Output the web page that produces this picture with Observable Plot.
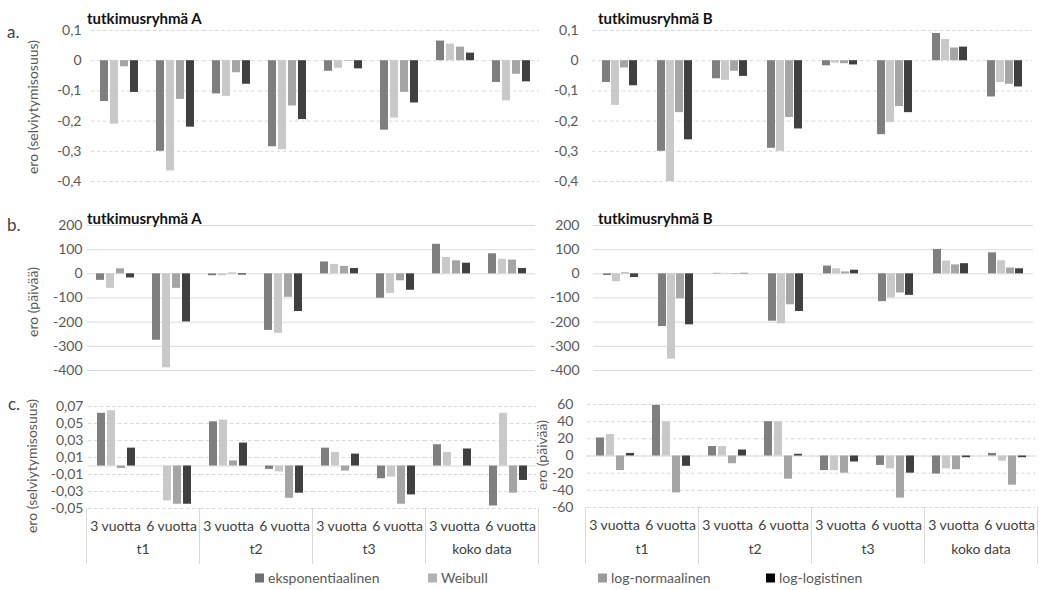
<!DOCTYPE html>
<html><head><meta charset="utf-8">
<script src="https://cdn.jsdelivr.net/npm/d3@7"></script>
<script src="https://cdn.jsdelivr.net/npm/@observablehq/plot@0.6"></script>
<style>
html,body{margin:0;padding:0;background:#fff;}
#root{position:relative;width:1039px;height:590px;overflow:hidden;font-family:Lato,"Open Sans",sans-serif;color:#595959;}
.t{position:absolute;white-space:nowrap;line-height:1;}
.title{font-weight:bold;font-size:15px;color:#111;}
.letter{font-size:17px;color:#404040;}
.ylab{font-size:14px;color:#595959;transform:translate(-50%,-50%) rotate(-90deg);}
.leg{font-size:14px;color:#595959;transform:translateY(-50%);}
.sw{position:absolute;width:9px;height:9px;transform:translateY(-50%);}
</style></head>
<body><div id="root"></div>
<script>
// ---- categories ----
const series = ["eksponentiaalinen", "Weibull", "log-normaalinen", "log-logistinen"];
const periods = ["t1", "t2", "t3", "koko data"];
const horizons = ["3 vuotta", "6 vuotta"];

// ---- values, order: t1/3v, t1/6v, t2/3v, t2/6v, t3/3v, t3/6v, koko/3v, koko/6v ----
// a. ero (selviytymisosuus), tutkimusryhmä A
const selvA_eksp = [-0.135, -0.30, -0.11, -0.285, -0.035, -0.23, 0.065, -0.072];
const selvA_weib = [-0.21, -0.365, -0.118, -0.295, -0.025, -0.19, 0.055, -0.133];
const selvA_logn = [-0.02, -0.128, -0.04, -0.15, -0.002, -0.105, 0.045, -0.045];
const selvA_logl = [-0.105, -0.22, -0.078, -0.195, -0.027, -0.14, 0.025, -0.07];
// a. tutkimusryhmä B
const selvB_eksp = [-0.072, -0.30, -0.06, -0.29, -0.017, -0.245, 0.09, -0.12];
const selvB_weib = [-0.148, -0.40, -0.065, -0.30, -0.008, -0.205, 0.07, -0.072];
const selvB_logn = [-0.024, -0.172, -0.035, -0.188, -0.01, -0.152, 0.042, -0.078];
const selvB_logl = [-0.083, -0.262, -0.052, -0.226, -0.014, -0.172, 0.045, -0.087];
// b. ero (päivää), A
const paivA_eksp = [-27, -275, -8, -234, 49, -101, 122, 83];
const paivA_weib = [-60, -389, -8, -246, 39, -81, 68, 60];
const paivA_logn = [21, -60, 3, -97, 31, -29, 54, 57];
const paivA_logl = [-17, -199, -5, -156, 22, -68, 44, 22];
// b. B
const paivB_eksp = [-7, -218, 2, -196, 32, -115, 101, 87];
const paivB_weib = [-33, -353, 2, -207, 21, -99, 53, 54];
const paivB_logn = [4, -103, -2, -128, 8, -79, 37, 24];
const paivB_logl = [-15, -211, 2, -156, 15, -89, 42, 21];
// c. A (selviytymisosuus)
const cA_eksp = [0.062, 0, 0.052, -0.004, 0.021, -0.015, 0.025, -0.047];
const cA_weib = [0.065, -0.041, 0.054, -0.007, 0.016, -0.013, 0.016, 0.062];
const cA_logn = [-0.003, -0.045, 0.006, -0.038, -0.006, -0.045, 0, -0.032];
const cA_logl = [0.021, -0.045, 0.027, -0.032, 0.014, -0.034, 0.020, -0.017];
// c. B (päivää)
const cB_eksp = [21, 59, 11, 40, -17, -11, -21, 3];
const cB_weib = [25, 40, 11, 40, -17, -15, -15, -6];
const cB_logn = [-17, -43, -9, -27, -20, -49, -16, -34];
const cB_logl = [3, -12, 7, 2, -7, -20, -2, -2];

// ---- tick values ----
const ticksSelv = [0.1, 0, -0.1, -0.2, -0.3, -0.4];
const ticksPaiv = [200, 100, 0, -100, -200, -300, -400];
const ticksCA = [0.07, 0.05, 0.03, 0.01, -0.01, -0.03, -0.05];
const ticksCB = [60, 40, 20, 0, -20, -40, -60];

const barColors = ["#7f7f7f", "#c9c9c9", "#a5a5a5", "#404040"];
const legendColors = ["#6f6f6f", "#b4b1b1", "#9b9b9b", "#000000"];
const FONT = "Lato, 'Open Sans', sans-serif";
const root = document.getElementById("root");

const groups = periods.flatMap(p => horizons.map(h => p + " · " + h));
const rows = vals => groups.flatMap((g, gi) => series.map((s, si) => ({g, s, v: vals[si][gi]})));
const fmt = dec => d => d === 0 ? "0" : (dec ? d.toFixed(dec).replace(".", ",") : String(d));

function place(el, L, T) {
  el.style.position = "absolute"; el.style.left = L + "px"; el.style.top = T + "px";
  root.append(el);
}

function barPanel({vals, domain, ticks, format, dash, solidZero, L, W, T, H, x0, x1, y0, y1, pad}) {
  const chart = Plot.plot({
    width: W, height: H,
    marginLeft: x0 - L, marginRight: L + W - x1, marginTop: y0 - T, marginBottom: T + H - y1,
    style: {fontFamily: FONT, fontSize: "14px", color: "#595959", background: "transparent", overflow: "visible"},
    fx: {domain: groups, padding: 0, axis: null},
    x: {domain: series, paddingInner: 0.16, paddingOuter: 0.85, axis: null},
    y: {domain, ticks, tickFormat: format, tickSize: 0, tickPadding: pad, label: null},
    color: {domain: series, range: barColors},
    marks: [
      Plot.ruleY(ticks, {stroke: "#d9d9d9", strokeDasharray: dash}),
      solidZero ? Plot.ruleY([0], {stroke: "#d9d9d9"}) : null,
      Plot.barY(rows(vals), {fx: "g", x: "s", y1: 0, y2: "v", fill: "s"})
    ]
  });
  place(chart, L, T);
}

function catAxis({L, W, T, H, x0, x1}) {
  const subs = periods.flatMap(p => horizons.map(h => ({p, h})));
  const chart = Plot.plot({
    width: W, height: H,
    marginLeft: x0 - L, marginRight: L + W - x1, marginTop: 0, marginBottom: 0,
    style: {fontFamily: FONT, fontSize: "14px", color: "#404040", background: "transparent", overflow: "visible"},
    fx: {domain: periods, padding: 0, axis: null},
    x: {type: "band", domain: horizons, padding: 0, axis: null},
    marks: [
      Plot.frame({anchor: "left", stroke: "#d9d9d9"}),
      Plot.frame({anchor: "right", stroke: "#d9d9d9"}),
      Plot.text(subs, {fx: "p", x: "h", text: "h", frameAnchor: "top", dy: 13, fontSize: 14, fill: "#404040"}),
      Plot.text(periods, {fx: d => d, text: d => d, frameAnchor: "bottom", dy: -10, fontSize: 14, fill: "#404040"})
    ]
  });
  place(chart, L, T);
}

function text(cls, str, x, y) {
  const d = document.createElement("div");
  d.className = "t " + cls; d.textContent = str;
  d.style.left = x + "px"; d.style.top = y + "px";
  root.append(d);
  return d;
}

const dash = "3.5,2.5";
// Row a
barPanel({vals: [selvA_eksp, selvA_weib, selvA_logn, selvA_logl], domain: [-0.4, 0.1], ticks: ticksSelv, format: fmt(1), dash,
  L: 0, W: 545, T: 0, H: 190, x0: 89, x1: 540, y0: 30, y1: 181, pad: 10});
barPanel({vals: [selvB_eksp, selvB_weib, selvB_logn, selvB_logl], domain: [-0.4, 0.1], ticks: ticksSelv, format: fmt(1), dash,
  L: 519, W: 520, T: 0, H: 190, x0: 591, x1: 1033, y0: 30, y1: 181, pad: 14});
// Row b
barPanel({vals: [paivA_eksp, paivA_weib, paivA_logn, paivA_logl], domain: [-400, 200], ticks: ticksPaiv, format: fmt(0), dash: null,
  L: 0, W: 545, T: 195, H: 185, x0: 86, x1: 535, y0: 225, y1: 370, pad: 5});
barPanel({vals: [paivB_eksp, paivB_weib, paivB_logn, paivB_logl], domain: [-400, 200], ticks: ticksPaiv, format: fmt(0), dash: null,
  L: 519, W: 520, T: 195, H: 185, x0: 590, x1: 1035, y0: 225, y1: 370, pad: 14});
// Row c
barPanel({vals: [cA_eksp, cA_weib, cA_logn, cA_logl], domain: [-0.05, 0.07], ticks: ticksCA, format: fmt(2), dash, solidZero: true,
  L: 0, W: 545, T: 380, H: 135, x0: 85, x1: 538, y0: 406, y1: 508, pad: 5});
barPanel({vals: [cB_eksp, cB_weib, cB_logn, cB_logl], domain: [-60, 60], ticks: ticksCB, format: fmt(0), dash, solidZero: true,
  L: 519, W: 520, T: 380, H: 135, x0: 584, x1: 1037, y0: 404, y1: 507, pad: 14});
// category axes
catAxis({L: 0, W: 545, T: 508, H: 55, x0: 85, x1: 538});
catAxis({L: 519, W: 520, T: 507, H: 56, x0: 584, x1: 1037});

// titles & labels
text("title", "tutkimusryhmä A", 87, 11);
text("title", "tutkimusryhmä B", 598, 11);
text("title", "tutkimusryhmä A", 87, 211);
text("title", "tutkimusryhmä B", 598, 211);
text("letter", "a.", 7, 23);
text("letter", "b.", 7, 216);
text("letter", "c.", 8, 395);
text("ylab", "ero (selviytymisosuus)", 33, 107);
text("ylab", "ero (päivää)", 33, 302);
text("ylab", "ero (selviytymisosuus)", 32, 466);
text("ylab", "ero (päivää)", 542, 455);

// legend
const legX = [255, 428, 598, 766];
series.forEach((s, i) => {
  const sw = document.createElement("div");
  sw.className = "sw"; sw.style.left = legX[i] + "px"; sw.style.top = "578px"; sw.style.background = legendColors[i];
  root.append(sw);
  text("leg", s, legX[i] + 13, 578);
});
</script>
</body></html>
